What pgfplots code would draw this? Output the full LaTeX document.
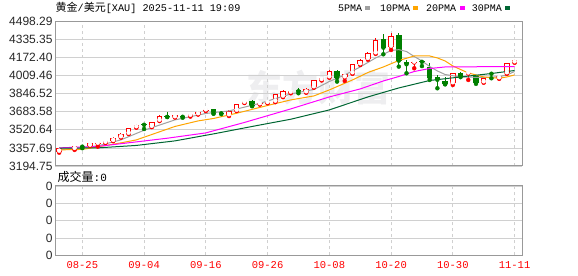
\documentclass[border=0pt]{standalone}
\usepackage{pgfplots}
\pgfplotsset{compat=1.18}
\usepackage{pgfplotstable}
\usepackage{fontspec}
\setmainfont{Liberation Sans}
\newfontfamily\cjk{Noto Sans CJK SC}
\newfontfamily\mono{Liberation Mono}
\definecolor{upred}{RGB}{255,0,0}
\definecolor{dngreen}{RGB}{0,128,0}
\definecolor{magray}{RGB}{160,160,160}
\definecolor{maorange}{RGB}{255,165,0}
\definecolor{mamag}{RGB}{255,0,255}
\definecolor{magreen}{RGB}{0,102,51}
\definecolor{framec}{RGB}{153,153,153}
\definecolor{gridc}{RGB}{208,208,208}
\definecolor{wmark}{RGB}{238,238,240}

% up (red) candles: index open high low close
\pgfplotstableread{
i o h l c
0 3324 3357 3315 3355
2 3349 3378 3340 3373
4 3378 3402 3376 3400
5 3396 3401 3370 3400
6 3405 3426 3403 3423
7 3421 3453 3418 3450
8 3454 3489 3451 3486
9 3486 3540 3483 3538
10 3544 3570 3540 3567
12 3548 3593 3545 3590
13 3603 3650 3600 3646
15 3634 3655 3632 3652
17 3648 3666 3640 3664
18 3661 3688 3658 3685
19 3696 3705 3690 3700
22 3652 3695 3645 3691
23 3693 3756 3690 3754
24 3765 3780 3762 3769
26 3751 3770 3748 3766
27 3763 3778 3760 3767
28 3775 3845 3770 3841
29 3820 3876 3815 3871
30 3856 3880 3850 3871
32 3859 3893 3855 3889
33 3904 3973 3900 3970
34 3970 3995 3965 3991
35 3994 4057 3990 4054
37 3994 4028 3961 4024
38 4030 4118 4025 4114
39 4111 4155 4105 4150
40 4159 4220 4152 4216
41 4210 4345 4205 4330
43 4270 4390 4240 4366
46 4127 4150 4075 4131
51 3940 4035 3925 4030
53 4028 4042 3970 4036
55 3949 3990 3945 3985
57 3985 4008 3980 4003
58 4030 4125 4025 4120
59 4129 4155 4125 4150
}\up

% down (green) candles
\pgfplotstableread{
i o h l c
3 3373 3382 3355 3369
11 3570 3575 3528 3566
14 3641 3680 3636 3637
16 3642 3648 3630 3638
20 3706 3712 3665 3670
21 3673 3677 3662 3669
25 3784 3792 3733 3738
31 3874 3900 3850 3868
36 4054 4058 3955 3988
42 4339 4384 4201 4261
44 4375 4390 4090 4144
45 4135 4150 4030 4111
47 4137 4150 4095 4133
48 4085 4120 3970 3990
49 3994 4015 3895 3972
50 3964 3995 3930 3934
52 4036 4040 3995 4009
54 4006 4015 3935 3946
56 4030 4032 3985 4026
}\down

\pgfplotstableread{
i v
0 3340
5 3376
8 3430
11 3517
15 3610
19 3668
22 3691
26 3759
30 3844
33 3884
35 3956
37 4015
39 4087
41 4168
43 4235
44 4243
45 4226
46 4181
47 4141
48 4091
49 4051
50 4019
52 3997
55 3992
57 3999
58 4015
59 4046
}\maA

\pgfplotstableread{
i v
0 3340
3 3344
8 3403
10 3430
15 3551
18 3601
20 3623
23 3670
27 3740
30 3790
33 3826
35 3880
38 3970
40 4037
42 4087
44 4145
46 4186
48 4186
49 4168
50 4141
51 4096
52 4064
53 4033
55 3997
57 3985
58 3997
59 4015
}\maB

\pgfplotstableread{
i v
0 3358
5 3371
10 3412
14 3445
19 3493
24 3587
30 3709
35 3817
39 3889
42 3961
44 4001
46 4046
48 4073
50 4087
59 4091
}\maC

\pgfplotstableread{
i v
0 3355
5 3358
10 3380
15 3421
20 3484
25 3551
30 3616
35 3700
40 3817
44 3898
48 3965
52 3997
56 4028
59 4055
}\maD

\pgfplotsset{
  wick/.style={#1, only marks, mark=none, forget plot,
    error bars/.cd, y dir=plus, y explicit, error mark=none,
    error bar style={line width=1bp, #1}},
  body/.style={#1, only marks, mark=none, forget plot,
    error bars/.cd, y dir=plus, y explicit, error mark=none,
    error bar style={line width=5.5bp, #1}},
  inner/.style={white, only marks, mark=none, forget plot,
    error bars/.cd, y dir=plus, y explicit, error mark=none,
    error bar style={line width=3.5bp, white}},
}

\begin{document}
\begin{tikzpicture}
\path[use as bounding box] (0bp,0bp) rectangle (578bp,276bp);
\node[text=wmark, font=\cjk\bfseries\fontsize{36bp}{36bp}\selectfont] at (318bp,188bp) {东方财富};

\begin{axis}[
  at={(55.3bp,110bp)}, anchor=south west,
  width=467bp, height=144.7bp, scale only axis,
  xmin=-0.5, xmax=60, ymin=3194.75, ymax=4498.29,
  xtick={3,11,19,27,35,43,51,59}, xticklabels={},
  ytick={3194.75,3357.69,3520.64,3683.58,3846.52,4009.46,4172.40,4335.35,4498.29},
  yticklabels={3194.75,3357.69,3520.64,3683.58,3846.52,4009.46,4172.40,4335.35,4498.29},
  major tick length=0pt,
  xmajorgrids, ymajorgrids,
  x grid style={gridc, dash pattern=on 3bp off 3bp, line width=0.8bp},
  y grid style={gridc, line width=0.8bp},
  axis line style={framec, line width=1bp},
  /pgf/number format/assume math mode=true,
  yticklabel style={font=\fontsize{12bp}{12bp}\selectfont, text=black!85, inner sep=0pt, xshift=-2.5bp},
]
% red candles
\addplot[wick=upred] table[x=i, y=l, y error plus expr={\thisrow{h}-\thisrow{l}}] {\up};
\addplot[body=upred] table[x=i, y=o, y error plus expr={max(\thisrow{c}-\thisrow{o},7)}] {\up};
\addplot[inner] table[x=i, y expr={\thisrow{o}+9}, y error plus expr={max(\thisrow{c}-\thisrow{o}-18,0)}] {\up};
% green candles
\addplot[wick=dngreen] table[x=i, y=l, y error plus expr={\thisrow{h}-\thisrow{l}}] {\down};
\addplot[body=dngreen] table[x=i, y=c, y error plus expr={max(\thisrow{o}-\thisrow{c},7)}] {\down};
% moving averages
\addplot[magray, line width=1bp, mark=none] table[x=i, y=v] {\maA};
\addplot[maorange, line width=1bp, mark=none] table[x=i, y=v] {\maB};
\addplot[mamag, line width=1bp, mark=none] table[x=i, y=v] {\maC};
\addplot[magreen, line width=1bp, mark=none] table[x=i, y=v] {\maD};
\end{axis}

\begin{axis}[
  at={(55.3bp,20.7bp)}, anchor=south west,
  width=467bp, height=69.3bp, scale only axis,
  xmin=-0.5, xmax=60, ymin=0, ymax=4,
  xtick={3,11,19,27,35,43,51,59},
  xticklabels={08-25,09-04,09-16,09-26,10-08,10-20,10-30,11-11},
  ytick={0,1,2,3,4}, yticklabels={0,0,0,0,0},
  major tick length=0pt,
  xmajorgrids, ymajorgrids,
  x grid style={gridc, dash pattern=on 3bp off 3bp, line width=0.8bp},
  y grid style={gridc, line width=0.8bp},
  axis line style={framec, line width=1bp},
  /pgf/number format/assume math mode=true,
  yticklabel style={font=\fontsize{12bp}{12bp}\selectfont, text=black!85, inner sep=0pt, xshift=-2.5bp},
  xticklabel style={font=\mono\fontsize{10.5bp}{10.5bp}\selectfont, text=upred, inner sep=0pt, yshift=-6bp},
]
\addplot[draw=none, mark=none] coordinates {(0,0)};
\end{axis}

% title
\node[anchor=west, inner sep=0pt] at (55.5bp,267.8bp)
  {\cjk\fontsize{11bp}{12bp}\selectfont 黄金\mono\fontsize{10.2bp}{12bp}\selectfont/\cjk\fontsize{11bp}{12bp}\selectfont 美元\mono\fontsize{10.2bp}{12bp}\selectfont[XAU] 2025-11-11 19:09};
% legend
\node[anchor=west, inner sep=0pt, font=\mono\fontsize{10bp}{12bp}\selectfont] at (338bp,268bp) {5PMA};
\fill[magray] (365bp,266.3bp) rectangle (370bp,269.7bp);
\node[anchor=west, inner sep=0pt, font=\mono\fontsize{10bp}{12bp}\selectfont] at (380bp,268bp) {10PMA};
\fill[maorange] (413bp,266.3bp) rectangle (418bp,269.7bp);
\node[anchor=west, inner sep=0pt, font=\mono\fontsize{10bp}{12bp}\selectfont] at (426bp,268bp) {20PMA};
\fill[mamag] (460bp,266.3bp) rectangle (465bp,269.7bp);
\node[anchor=west, inner sep=0pt, font=\mono\fontsize{10bp}{12bp}\selectfont] at (471.7bp,268bp) {30PMA};
\fill[magreen] (505bp,266.3bp) rectangle (510bp,269.7bp);
% volume caption
\node[anchor=west, inner sep=0pt] at (57.5bp,98.7bp)
  {\cjk\fontsize{12bp}{12bp}\selectfont 成交量\mono\fontsize{11bp}{12bp}\selectfont:0};
\end{tikzpicture}
\end{document}
